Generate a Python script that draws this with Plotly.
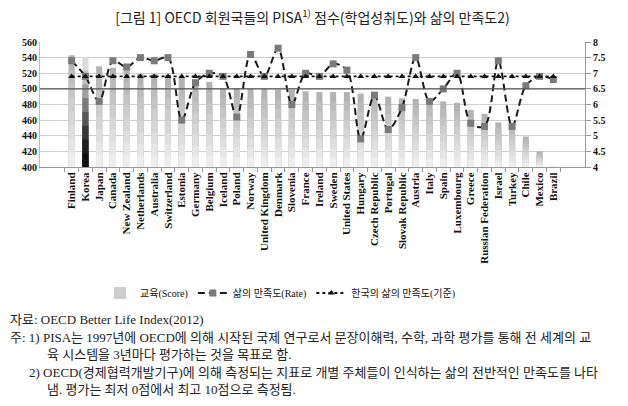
import plotly.graph_objects as go

countries = ["Finland", "Korea", "Japan", "Canada", "New Zealand", "Netherlands", "Australia",
             "Switzerland", "Estonia", "Germany", "Belgium", "Iceland", "Poland", "Norway",
             "United Kingdom", "Denmark", "Slovenia", "France", "Ireland", "Sweden",
             "United States", "Hungary", "Czech Republic", "Portugal", "Slovak Republic",
             "Austria", "Italy", "Spain", "Luxembourg", "Greece", "Russian Federation",
             "Israel", "Turkey", "Chile", "Mexico", "Brazil"]
pisa_score = [543, 541, 529, 527, 524, 519, 519, 518, 514, 510, 509, 501, 501, 500, 500, 499,
              499, 497, 496, 496, 496, 494, 493, 490, 488, 487, 486, 484, 482, 473, 468, 457,
              455, 439, 420, 401]
life_rate = [7.4, 6.9, 6.1, 7.4, 7.2, 7.5, 7.4, 7.5, 5.5, 6.7, 7.0, 6.9, 5.6, 7.6, 6.9, 7.8,
             6.0, 7.0, 6.9, 7.3, 7.1, 4.9, 6.3, 5.2, 5.9, 7.5, 6.1, 6.5, 7.0, 5.4, 5.3, 7.4,
             5.3, 6.6, 6.9, 6.8]
korea_rate = 6.9
korea_ref = [korea_rate] * len(countries)

left_ticks = [400, 420, 440, 460, 480, 500, 520, 540, 560]
right_ticks = [4, 4.5, 5, 5.5, 6, 6.5, 7, 7.5, 8]
right_labels = ["4", "4.5", "5", "5.5", "6", "6.5", "7", "7.5", "8"]

SERIF = "Liberation Serif, Times New Roman, serif"
KR = "Noto Sans CJK KR"
MIX = "Liberation Serif, Noto Sans CJK KR"

# gradient look for bars: grey band colours (top -> bottom)
grey_bands = ["#b3b3b3", "#bcbcbc", "#c5c5c5", "#cecece", "#d6d6d6", "#dedede", "#e6e6e6", "#eeeeee"]
korea_bands = ["#dcdcdc", "#c0c0c0", "#a0a0a0", "#7c7c7c", "#585858", "#383838", "#202020", "#101010"]
n_bands = len(grey_bands)
axis_base = 400

fig = go.Figure()
for k in range(n_bands):
    frac = 1 - k / n_bands
    heights = [(v - axis_base) * frac for v in pisa_score]
    colors = [korea_bands[k] if c == "Korea" else grey_bands[k] for c in countries]
    fig.add_trace(go.Bar(x=countries, y=heights, base=axis_base, name="교육(Score)",
                         marker=dict(color=colors, line=dict(width=0)),
                         yaxis="y", showlegend=(k == 3), legendrank=1,
                         hoverinfo="skip" if k else None))
fig.add_trace(go.Scatter(x=countries, y=life_rate, name="삶의 만족도(Rate)", yaxis="y2",
                         mode="lines+markers", legendrank=2,
                         line=dict(color="#1a1a1a", width=2, dash="7px,4px", shape="spline",
                                   smoothing=0.9),
                         marker=dict(symbol="square", size=7, color="#7a7a7a")))
fig.add_trace(go.Scatter(x=countries, y=korea_ref, name="한국의 삶의 만족도(기준)", yaxis="y2",
                         mode="lines+markers", legendrank=3,
                         line=dict(color="#111111", width=1.8, dash="dot"),
                         marker=dict(symbol="triangle-up", size=6, color="#111111")))

top, height = 42, 125
def py(px):
    return 1 - (px - top) / height
left, width = 40, 545
def px_(x):
    return (x - left) / width

fig.update_layout(
    width=628, height=406,
    margin=dict(l=left, r=628 - left - width, t=top, b=406 - top - height),
    paper_bgcolor="white", plot_bgcolor="white",
    barmode="overlay", bargap=0.56,
    title=dict(text="[그림 1] OECD 회원국들의 PISA<sup>1)</sup> 점수(학업성취도)와 삶의 만족도2)",
               x=0.5, xref="paper", y=1 - 18 / 406, yanchor="middle",
               font=dict(family=KR, size=14, color="#222")),
    xaxis=dict(type="category", tickmode="array", tickvals=countries, ticktext=countries,
               tickangle=-90, ticks="outside", tickson="boundaries",
               ticklen=4, tickcolor="#999", showline=True, linecolor="#999",
               tickfont=dict(family=SERIF, size=11, color="#111", weight="bold"),
               showgrid=False),
    yaxis=dict(range=[400, 560], tickvals=left_ticks, showgrid=True, gridcolor="#cfcfcf",
               gridwidth=1, showline=True, linecolor="#bbb", zeroline=False,
               tickfont=dict(family=SERIF, size=10, color="#111", weight="bold"), ticks=""),
    yaxis2=dict(range=[4, 8], tickvals=right_ticks, ticktext=right_labels, overlaying="y",
                side="right", showgrid=False, showline=True, linecolor="#999",
                ticks="outside", ticklen=5, tickcolor="#999", zeroline=False,
                tickfont=dict(family=SERIF, size=10, color="#111", weight="bold")),
    legend=dict(orientation="h", x=px_(100), xanchor="left", y=py(293), yanchor="middle",
                font=dict(family=MIX, size=10, color="#111"), itemwidth=30,
                bgcolor="rgba(0,0,0,0)"),
    shapes=[dict(type="line", xref="paper", x0=0, x1=1, yref="y", y0=500, y1=500,
                 line=dict(color="#555", width=1.3), layer="above")],
)

notes = [
    (8, 319, "자료: OECD Better Life Index(2012)"),
    (8, 337, "주: 1) PISA는 1997년에 OECD에 의해 시작된 국제 연구로서 문장이해력, 수학, 과학 평가를 통해 전 세계의 교"),
    (45, 354, "육 시스템을 3년마다 평가하는 것을 목표로 함."),
    (27, 372, "2) OECD(경제협력개발기구)에 의해 측정되는 지표로 개별 주체들이 인식하는 삶의 전반적인 만족도를 나타"),
    (45, 389, "냄. 평가는 최저 0점에서 최고 10점으로 측정됨."),
]
for x, y, t in notes:
    fig.add_annotation(x=px_(x), y=py(y), xref="paper", yref="paper", text=t,
                       showarrow=False, xanchor="left", yanchor="middle",
                       font=dict(family=MIX, size=13, color="#222"))

fig.write_html("out.html")
